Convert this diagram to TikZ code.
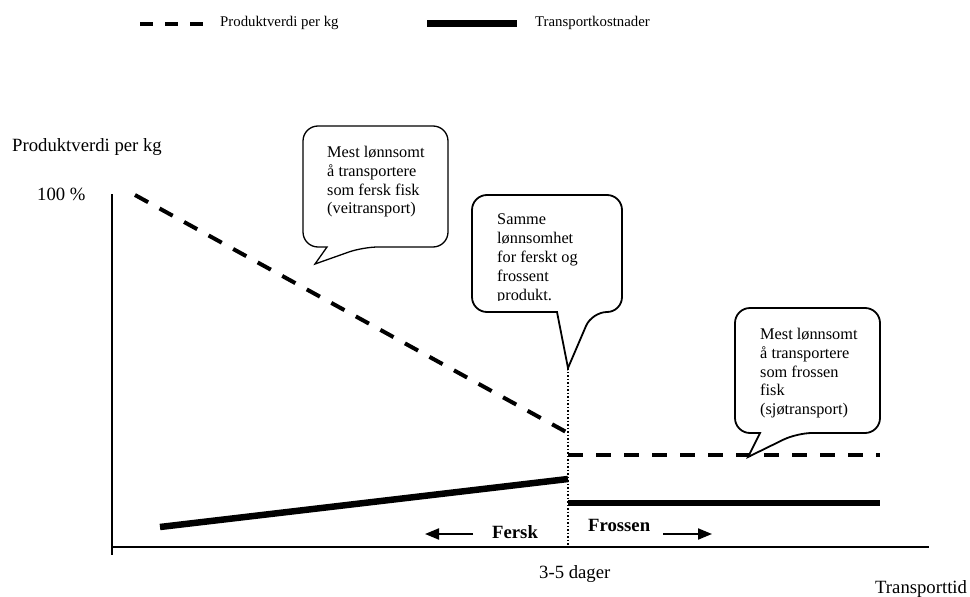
\documentclass[tikz,border=0pt]{standalone}
\usepackage{fontspec}
\setmainfont{Liberation Serif}
\usepackage{tikz}
\usetikzlibrary{arrows.meta}

% speech bubble: [style] x1 y1 x2 y2 tail-left tail-right tip
\newcommand{\bubble}[8][]{%
  \draw[bubbleline, #1] (#6,#5) [rounded corners=15pt] -- (#2,#5) -- (#2,#3)
    -- (#4,#3) -- (#4,#5) -- (#7,#5) [sharp corners] -- (#8) -- cycle;}

\begin{document}
\begin{tikzpicture}[x=1pt, y=-1pt,
  lbl/.style={font=\fontsize{18.7}{22}\selectfont, inner sep=0pt, anchor=base west},
  keytxt/.style={font=\fontsize{14.8}{18}\selectfont, inner sep=0pt, anchor=base west},
  note/.style={font=\fontsize{16.3}{18.8}\selectfont, inner sep=0pt, align=left, anchor=north west},
  bubbleline/.style={draw=black, fill=white, line width=1.8pt},
  axis/.style={line width=1.8pt},
  value/.style={line width=4pt, dash pattern=on 15pt off 13pt},
  cost/.style={line width=6.5pt},
  dir/.style={line width=2pt, -{Triangle[length=14pt, width=11pt]}}
]
  \useasboundingbox (0,0) rectangle (970,597);

  % legend
  \coordinate (kv1) at (140,24);  \coordinate (kv2) at (203,24);
  \coordinate (kc1) at (427,23.5); \coordinate (kc2) at (517,23.5);
  \draw[value, dash pattern=on 13pt off 12pt] (kv1) -- (kv2);
  \node[keytxt] (keyval) at (220,27) {Produktverdi per kg};
  \draw[cost] (kc1) -- (kc2);
  \node[keytxt] (keycost) at (535,27) {Transportkostnader};

  % axes
  \coordinate (ytop) at (112,194);
  \coordinate (ybot) at (112,555);
  \coordinate (xleft) at (112,547);
  \coordinate (xright) at (929,547);
  \draw[axis] (ytop) -- (ybot);
  \draw[axis] (xleft) -- (xright);
  \node[lbl] (ylab) at (12,151) {Produktverdi per kg};
  \node[lbl] (hundred) at (37,200) {100 \%};
  \node[lbl] (days) at (539,578) {3-5 dager};
  \node[lbl] (xlab) at (875,593) {Transporttid};

  % curves
  \coordinate (vf1) at (135,195); \coordinate (vf2) at (568,433);
  \coordinate (vz1) at (568,455); \coordinate (vz2) at (880,455);
  \coordinate (cf1) at (160,527); \coordinate (cf2) at (568,479);
  \coordinate (cz1) at (568,503); \coordinate (cz2) at (880,503);
  \draw[value] (vf1) -- (vf2);
  \draw[value] (vz1) -- (vz2);
  \draw[cost] (cf1) -- (cf2);
  \draw[cost] (cz1) -- (cz2);

  % split at 3-5 days
  \coordinate (tip2) at (568,368);
  \coordinate (split) at (568,547);
  \draw[line width=1.5pt, dotted] (tip2) -- (split);

  % direction arrows
  \node[lbl, font=\fontsize{18.7}{22}\selectfont\bfseries] (fersk) at (492,538) {Fersk};
  \node[lbl, font=\fontsize{18.7}{22}\selectfont\bfseries] (frossen) at (588,531) {Frossen};
  \coordinate (fa1) at (473,534); \coordinate (fa2) at (425,534);
  \coordinate (za1) at (663,534); \coordinate (za2) at (712,534);
  \draw[dir] (fa1) -- (fa2);
  \draw[dir] (za1) -- (za2);

  % speech bubbles
  \coordinate (tip1) at (315,264);
  \coordinate (tip3) at (748,457);
  \bubble[line width=1.3pt]{303}{126}{448}{247}{327}{363}{tip1}
  \node[note] (road) at (327,146) {Mest lønnsomt\\å transportere\\som fersk fisk\\(veitransport)};

  \bubble{472}{195}{622}{312}{557}{592}{tip2}
  \begin{scope}
    \clip (472,195) rectangle (622,300);
    \node[note] (same) at (497,214) {Samme\\lønnsomhet\\for ferskt og\\frossent\\produkt.};
  \end{scope}

  \bubble{735}{308}{880}{433}{760}{797}{tip3}
  \node[note] (sea) at (760,328) {Mest lønnsomt\\å transportere\\som frossen\\fisk\\(sjøtransport)};
\end{tikzpicture}
\end{document}
